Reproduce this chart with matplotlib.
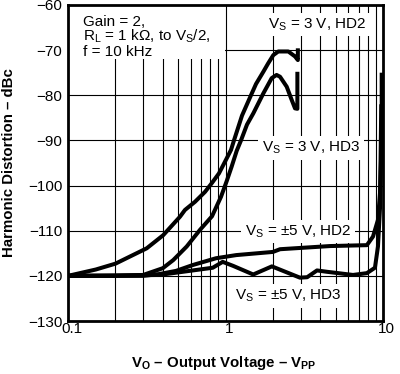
import matplotlib
matplotlib.use("Agg")
import matplotlib.pyplot as plt
import matplotlib.transforms as mtransforms
from matplotlib.patches import Rectangle
from matplotlib.ticker import FixedLocator, NullFormatter

plt.rcParams['font.family'] = ['Liberation Sans', 'DejaVu Sans']
plt.rcParams['mathtext.fontset'] = 'custom'
plt.rcParams['mathtext.rm'] = 'Liberation Sans'
plt.rcParams['mathtext.bf'] = 'Liberation Sans:bold'
plt.rcParams['mathtext.it'] = 'Liberation Sans:italic'

# 3 V, HD2
hd2_3v_x = [0.1, 0.15, 0.2, 0.248, 0.316, 0.402, 0.514, 0.553, 0.640, 0.741, 0.817, 0.909, 0.993, 1.084, 1.132,
            1.273, 1.43, 1.562, 1.738, 1.861, 2.012, 2.163, 2.505, 2.763, 2.88, 2.88]
hd2_3v_y = [-120, -118.6, -117.3, -115.7, -113.9, -111, -106.9, -105.4, -103.6, -101.4, -99.5, -97.3, -94.7, -92.1, -90,
            -84.5, -80.5, -77.5, -74.8, -73, -71.1, -70.3, -70.3, -71.4, -72.2, -69.6]
# 3 V, HD3
hd3_3v_x = [0.1, 0.2, 0.3, 0.40, 0.466, 0.567, 0.689, 0.821, 0.936, 1.018, 1.094, 1.178, 1.254, 1.369, 1.502, 1.738,
            1.965, 2.11, 2.22, 2.447, 2.63, 2.763, 2.86, 2.86]
hd3_3v_y = [-120, -120, -119.8, -118.3, -116.5, -113.5, -109.8, -106.8, -102.5, -99, -95.8, -92.3, -90, -86.5, -84, -79.6,
            -76.2, -75.5, -75.9, -78.1, -81, -82.9, -83, -74.8]
# +-5 V, HD2
hd2_5v_x = [0.1, 0.3, 0.38, 0.485, 0.62, 0.87, 1.17, 2.0, 2.22, 4.6, 7.9, 8.64, 9.29, 9.57, 9.81, 9.81]
hd2_5v_y = [-120, -120, -119.6, -118.9, -117.6, -116.1, -115.4, -114.7, -114.1, -113.4, -113.2, -111.3, -107.6, -101.7, -90, -75]
# +-5 V, HD3
hd3_5v_x = [0.1, 0.38, 0.62, 0.83, 0.96, 1.12, 1.5, 1.97, 2.97, 3.3, 3.81, 4.41, 6.45, 7.9, 8.89, 9.29, 9.57, 9.75]
hd3_5v_y = [-120, -119.8, -118.8, -118.2, -116.9, -117.8, -119.7, -117.9, -120.4, -120.3, -118.8, -119.1, -119.8, -119.4, -118.2, -113.5, -105, -82]

yticks = [-130, -120, -110, -100, -90, -80, -70, -60]
xticks = [0.1, 1, 10]
xticklabels = ['0.1', '1', '10']

fig = plt.figure(figsize=(4.0, 3.74), dpi=100)
ax = fig.add_axes([0.17, 0.1417, 0.7875, 0.845])
ax.set_xscale('log')
ax.set_xlim(0.1, 10)
ax.set_ylim(-130, -60)

minors = [m * d for d in (0.1, 1) for m in range(2, 10)]
ax.xaxis.set_major_locator(FixedLocator(xticks))
ax.xaxis.set_minor_locator(FixedLocator(minors))
ax.xaxis.set_minor_formatter(NullFormatter())
ax.set_xticklabels(xticklabels)
ax.set_yticks(yticks)
ax.set_yticklabels([f"\u2212{abs(v)}" for v in yticks])
ax.tick_params(which='both', length=0, labelsize=11)
ax.tick_params(axis='y', pad=4)
ax.tick_params(axis='x', pad=1)
shift = mtransforms.ScaledTranslation(0.035, 0, fig.dpi_scale_trans)
for lab in ax.get_xticklabels():
    lab.set_transform(lab.get_transform() + shift)
ax.grid(True, which='both', axis='x', color='black', linewidth=0.8)
ax.grid(True, which='major', axis='y', color='black', linewidth=0.8)
ax.set_axisbelow(True)
for s in ax.spines.values():
    s.set_linewidth(2.0)
    s.set_zorder(5)

lw = 2.9
for xs, ys in [(hd2_3v_x, hd2_3v_y), (hd3_3v_x, hd3_3v_y), (hd2_5v_x, hd2_5v_y), (hd3_5v_x, hd3_5v_y)]:
    ax.plot(xs, ys, color='black', linewidth=lw, solid_joinstyle='round', solid_capstyle='butt', zorder=4)

# white box behind condition text
ax.add_patch(Rectangle((0, 0.829), 0.498, 0.171, transform=ax.transAxes,
                       facecolor='white', edgecolor='none', zorder=2))
fs = 11
ax.text(0.124, -64.76, "Gain = 2,", fontsize=fs, va='baseline', ha='left', zorder=3)
ax.text(0.124, -67.97, "R$_\\mathrm{L}$ = 1 k\u03a9, to V$_\\mathrm{S}$/2,", fontsize=fs, va='baseline', ha='left', zorder=3)
ax.text(0.124, -71.3, "f = 10 kHz", fontsize=fs, va='baseline', ha='left', zorder=3)

bb = dict(facecolor='white', edgecolor='none', pad=2.5)
ax.text(1.861, -65.17, "V$_\\mathrm{S}$ = 3 V, HD2", fontsize=fs, va='baseline', ha='left', bbox=bb, zorder=3)
ax.text(1.698, -92.5, "V$_\\mathrm{S}$ = 3 V, HD3", fontsize=fs, va='baseline', ha='left', bbox=bb, zorder=3)
ax.text(1.33, -111.0, "V$_\\mathrm{S}$ = \u00b15 V, HD2", fontsize=fs, va='baseline', ha='left', bbox=bb, zorder=3)
ax.text(1.149, -125.35, "V$_\\mathrm{S}$ = \u00b15 V, HD3", fontsize=fs, va='baseline', ha='left', bbox=bb, zorder=3)

ax.set_xlabel("V$_\\mathbf{O}$ \u2013 Output Voltage \u2013 V$_\\mathbf{PP}$", fontsize=10.8, fontweight='bold')
ax.set_ylabel("Harmonic Distortion \u2013 dBc", fontsize=10.8, fontweight='bold')
ax.xaxis.set_label_coords(0.494, -0.104)
ax.yaxis.set_label_coords(-0.165, 0.5)

fig.savefig("out.png", dpi=100)
